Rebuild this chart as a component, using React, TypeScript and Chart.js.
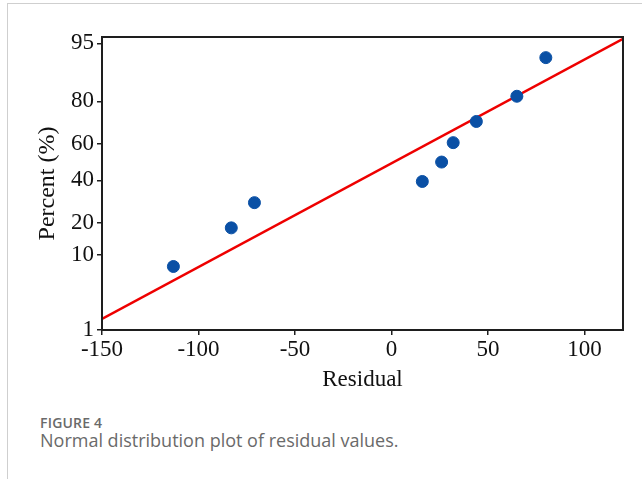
import React, { useEffect, useRef } from "react";
import { Chart, registerables } from "chart.js";

Chart.register(...registerables);

// Residual values (x) and their plotted cumulative percentages (y)
const residuals = [-113, -83, -71, 16, 26, 32, 44, 65, 80];
const percents = [7.4, 18.1, 28.7, 39.4, 50, 60.6, 71.3, 81.9, 92.6];

// Fitted normal reference line (endpoints, residual / percent)
const fitResiduals = [-150, 120];
const fitPercents = [1.49, 95.6];

// Axis ticks and ranges
const xTicks = [-150, -100, -50, 0, 50, 100];
const yTickPercents = [1, 10, 20, 40, 60, 80, 95];
const xMin = -150;
const xMax = 120;
const yMinPct = 1;
const yMaxPct = 95.84;

// Inverse normal CDF (probability scale transform)
function probit(pct: number): number {
  const p = pct / 100;
  const a = [-3.969683028665376e1, 2.209460984245205e2, -2.759285104469687e2, 1.38357751867269e2, -3.066479806614716e1, 2.506628277459239];
  const b = [-5.447609879822406e1, 1.615858368580409e2, -1.556989798598866e2, 6.680131188771972e1, -1.328068155288572e1];
  const c = [-7.784894002430293e-3, -3.223964580411365e-1, -2.400758277161838, -2.549732539343734, 4.374664141464968, 2.938163982698783];
  const d = [7.784695709041462e-3, 3.224671290700398e-1, 2.445134137142996, 3.754408661907416];
  const plow = 0.02425;
  if (p < plow) {
    const q = Math.sqrt(-2 * Math.log(p));
    return (((((c[0] * q + c[1]) * q + c[2]) * q + c[3]) * q + c[4]) * q + c[5]) / ((((d[0] * q + d[1]) * q + d[2]) * q + d[3]) * q + 1);
  }
  if (p <= 1 - plow) {
    const q = p - 0.5;
    const r = q * q;
    return ((((((a[0] * r + a[1]) * r + a[2]) * r + a[3]) * r + a[4]) * r + a[5]) * q) / (((((b[0] * r + b[1]) * r + b[2]) * r + b[3]) * r + b[4]) * r + 1);
  }
  const q = Math.sqrt(-2 * Math.log(1 - p));
  return -(((((c[0] * q + c[1]) * q + c[2]) * q + c[3]) * q + c[4]) * q + c[5]) / ((((d[0] * q + d[1]) * q + d[2]) * q + d[3]) * q + 1);
}

const SERIF = '"Liberation Serif", "Times New Roman", serif';

const frameBox = {
  id: "frameBox",
  afterDatasetsDraw(chart: any) {
    const { ctx, chartArea } = chart;
    ctx.save();
    ctx.strokeStyle = "#1e1e1e";
    ctx.lineWidth = 2;
    ctx.strokeRect(chartArea.left, chartArea.top, chartArea.right - chartArea.left, chartArea.bottom - chartArea.top);
    ctx.restore();
  },
};

function ProbabilityPlot() {
  const ref = useRef<HTMLCanvasElement | null>(null);
  useEffect(() => {
    if (!ref.current) return;
    const chart = new Chart(ref.current, {
      type: "scatter",
      data: {
        datasets: [
          {
            label: "Fit",
            type: "line",
            data: fitResiduals.map((x, i) => ({ x, y: probit(fitPercents[i]) })),
            borderColor: "#ee0000",
            borderWidth: 2.5,
            pointRadius: 0,
            fill: false,
            order: 2,
          } as any,
          {
            label: "Residuals",
            data: residuals.map((x, i) => ({ x, y: probit(percents[i]) })),
            backgroundColor: "#0a50a5",
            borderColor: "#0a50a5",
            pointRadius: 6,
            pointHoverRadius: 6,
            order: 1,
          },
        ],
      },
      options: {
        responsive: false,
        animation: false,
        events: [],
        layout: { padding: { left: 0, right: 19, top: 37, bottom: 0 } },
        plugins: { legend: { display: false }, tooltip: { enabled: false } },
        scales: {
          x: {
            type: "linear",
            min: xMin,
            max: xMax,
            afterFit: (s: any) => {
              s.height = 80;
            },
            afterBuildTicks: (s: any) => {
              s.ticks = xTicks.map((v) => ({ value: v }));
            },
            ticks: {
              color: "#111",
              font: { family: SERIF, size: 23 },
              padding: 1,
              maxRotation: 0,
              autoSkip: false,
            },
            grid: { drawOnChartArea: false, drawTicks: true, tickLength: 5, color: "#1e1e1e", lineWidth: 1.5 },
            border: { display: true, color: "#1e1e1e", width: 2 },
            title: {
              display: true,
              text: "Residual",
              color: "#111",
              font: { family: SERIF, size: 23 },
              padding: { top: 0, bottom: 16 },
            },
          },
          y: {
            type: "linear",
            min: probit(yMinPct),
            max: probit(yMaxPct),
            afterFit: (s: any) => {
              s.width = 102;
            },
            afterBuildTicks: (s: any) => {
              s.ticks = yTickPercents.map((p) => ({ value: probit(p) }));
            },
            ticks: {
              color: "#111",
              font: { family: SERIF, size: 23 },
              padding: 3,
              autoSkip: false,
              callback: (_v: any, i: number) => String(yTickPercents[i]),
            },
            grid: { drawOnChartArea: false, drawTicks: true, tickLength: 5, color: "#1e1e1e", lineWidth: 1.5 },
            border: { display: true, color: "#1e1e1e", width: 2 },
            title: {
              display: true,
              text: "Percent (%)",
              color: "#111",
              font: { family: SERIF, size: 24 },
              padding: { top: 33, bottom: 0 },
            },
          },
        },
      },
      plugins: [frameBox],
    } as any);
    return () => chart.destroy();
  }, []);
  return <canvas ref={ref} width={642} height={410} style={{ width: 642, height: 410, display: "block" }} />;
}

export default function App() {
  return (
    <div
      style={{
        position: "fixed",
        left: 0,
        top: 0,
        width: 642,
        height: 479,
        background: "#fff",
        overflow: "hidden",
      }}
    >
      <div style={{ position: "absolute", left: 7, right: 0, top: 3, height: 1, background: "#cfcfcf" }} />
      <div style={{ position: "absolute", left: 7, top: 3, bottom: 0, width: 1, background: "#cfcfcf" }} />
      <div style={{ position: "absolute", left: 0, top: 0 }}>
        <ProbabilityPlot />
      </div>
      <div
        style={{
          position: "absolute",
          left: 40,
          top: 414,
          fontFamily: '"Open Sans", sans-serif',
          color: "#6a6a6a",
          fontSize: 14,
          fontWeight: 600,
          lineHeight: "17px",
          letterSpacing: 0.2,
          whiteSpace: "nowrap",
        }}
      >
        FIGURE 4
      </div>
      <div
        style={{
          position: "absolute",
          left: 40,
          top: 429,
          fontFamily: '"Open Sans", sans-serif',
          color: "#6a6a6a",
          fontSize: 18,
          lineHeight: "22px",
          whiteSpace: "nowrap",
        }}
      >
        Normal distribution plot of residual values.
      </div>
    </div>
  );
}
